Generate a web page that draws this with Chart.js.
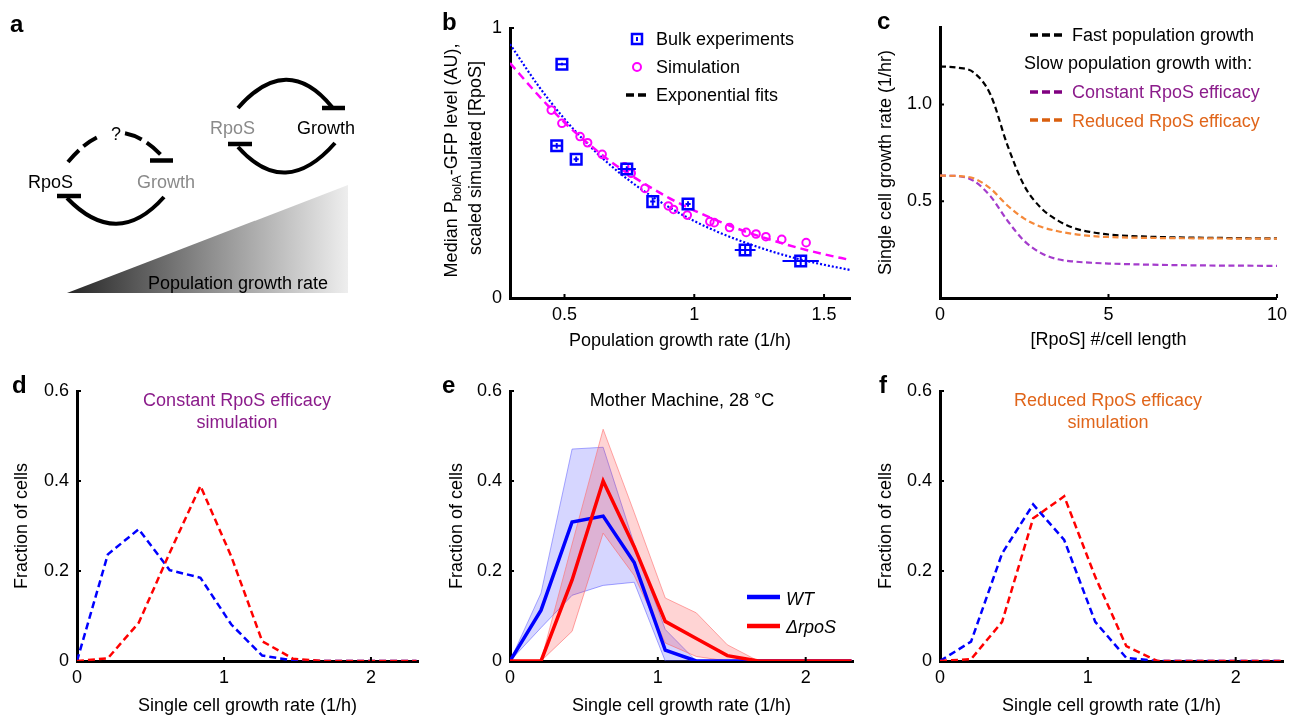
<!DOCTYPE html>
<html>
<head>
<meta charset="utf-8">
<script src="https://cdn.jsdelivr.net/npm/chart.js@4.4.0/dist/chart.umd.min.js"></script>
<style>
body { margin: 0; background: #fff; }
#fig { position: relative; width: 1293px; height: 718px; overflow: hidden; background: #fff; }
#fig canvas { position: absolute; }
#overlay { position: absolute; left: 0; top: 0; z-index: 2; }
#overlay text { font-family: "Liberation Sans", Arial, sans-serif; font-size: 18px; }
</style>
</head>
<body>
<div id="fig">
  <canvas id="chartB" width="440" height="360" style="left:420px;top:0"></canvas>
  <canvas id="chartC" width="433" height="360" style="left:860px;top:0"></canvas>
  <canvas id="chartD" width="430" height="358" style="left:0;top:360px"></canvas>
  <canvas id="chartE" width="440" height="358" style="left:430px;top:360px"></canvas>
  <canvas id="chartF" width="433" height="358" style="left:860px;top:360px"></canvas>

  <svg id="overlay" width="1293" height="718">
    <defs>
      <linearGradient id="grad" gradientUnits="userSpaceOnUse" x1="67" y1="0" x2="348" y2="0">
        <stop offset="0" stop-color="#262626"/>
        <stop offset="0.5" stop-color="#8c8c8c"/>
        <stop offset="1" stop-color="#eeeeee"/>
      </linearGradient>
    </defs>

    <!-- panel letters -->
    <g font-weight="bold">
      <text x="10" y="31.5" style="font-size:24px">a</text>
      <text x="442" y="30" style="font-size:24px">b</text>
      <text x="877" y="28.5" style="font-size:24px">c</text>
      <text x="12" y="393" style="font-size:24px">d</text>
      <text x="442" y="393" style="font-size:24px">e</text>
      <text x="879" y="393" style="font-size:24px">f</text>
    </g>

    <!-- panel a: schematic -->
    <polygon points="67,293 348,293 348,185" fill="url(#grad)"/>
    <text x="148" y="288.5">Population growth rate</text>
    <g fill="none" stroke="#000" stroke-width="4">
      <path d="M 68 162 Q 84.5 142 101 135.6" stroke-dasharray="16 6"/>
      <path d="M 125 133.2 Q 144.4 136.8 164 158" stroke-dasharray="18 6"/>
      <line x1="150" y1="160.5" x2="173" y2="160.5" stroke-width="4.5"/>
      <path d="M 164 197 Q 117 250 67 198"/>
      <line x1="57" y1="196" x2="81" y2="196" stroke-width="4.5"/>
      <path d="M 238 108 Q 287 52 332 107"/>
      <line x1="322" y1="108" x2="345" y2="108" stroke-width="4.5"/>
      <path d="M 335 143 Q 285 200 238 147"/>
      <line x1="228" y1="144" x2="252" y2="144" stroke-width="4.5"/>
    </g>
    <text x="116" y="140" text-anchor="middle" style="font-size:18px">?</text>
    <text x="28" y="188">RpoS</text>
    <text x="137" y="188" fill="#8a8a8a">Growth</text>
    <text x="210" y="133.5" fill="#8a8a8a">RpoS</text>
    <text x="297" y="133.5">Growth</text>

    <!-- panel b: y title and legend -->
    <text transform="translate(457,160.5) rotate(-90)" text-anchor="middle">Median P<tspan dy="4" style="font-size:13px">bolA</tspan><tspan dy="-4">-GFP level (AU),</tspan></text>
    <text transform="translate(480.5,158) rotate(-90)" text-anchor="middle">scaled simulated [RpoS]</text>
    <rect x="632" y="34" width="10" height="10" fill="none" stroke="#0000ff" stroke-width="2.5"/>
    <line x1="637" y1="37" x2="637" y2="41" stroke="#0000ff" stroke-width="2"/>
    <circle cx="637" cy="67" r="4" fill="none" stroke="#ff00ff" stroke-width="2"/>
    <line x1="626" y1="95" x2="649" y2="95" stroke="#000" stroke-width="3.5" stroke-dasharray="8 4"/>
    <text x="656" y="45">Bulk experiments</text>
    <text x="656" y="73.3">Simulation</text>
    <text x="656" y="101">Exponential fits</text>

    <!-- panel c legend -->
    <g stroke-width="3.5" stroke-dasharray="8 4">
      <line x1="1030" y1="35" x2="1062" y2="35" stroke="#000"/>
      <line x1="1030" y1="92" x2="1062" y2="92" stroke="#800080"/>
      <line x1="1030" y1="120" x2="1062" y2="120" stroke="#d95f0e"/>
    </g>
    <text x="1072" y="40.7">Fast population growth</text>
    <text x="1024" y="69.3">Slow population growth with:</text>
    <text x="1072" y="98.3" fill="#8b1c8b">Constant RpoS efficacy</text>
    <text x="1072" y="126.7" fill="#e0651a">Reduced RpoS efficacy</text>

    <!-- panel d/e/f titles -->
    <text x="237" y="405.7" text-anchor="middle" fill="#8b1c8b">Constant RpoS efficacy</text>
    <text x="237" y="428.3" text-anchor="middle" fill="#8b1c8b">simulation</text>
    <text x="682" y="406" text-anchor="middle">Mother Machine, 28 °C</text>
    <text x="1108" y="405.7" text-anchor="middle" fill="#e0651a">Reduced RpoS efficacy</text>
    <text x="1108" y="428.3" text-anchor="middle" fill="#e0651a">simulation</text>

    <!-- panel e legend -->
    <line x1="747" y1="597" x2="780" y2="597" stroke="#0000ff" stroke-width="4.5"/>
    <line x1="747" y1="626" x2="780" y2="626" stroke="#ff0000" stroke-width="4.5"/>
    <text x="786" y="605" font-style="italic">WT</text>
    <text x="786" y="632.7" font-style="italic">ΔrpoS</text>
  </svg>
</div>

<script>
// ---- panel b: bulk experiments vs simulation ----
const bulkGrowth = [0.49, 0.47, 0.545, 0.74, 0.84, 0.976, 1.196, 1.41];
const bulkGfp = [0.866, 0.564, 0.514, 0.478, 0.357, 0.348, 0.178, 0.137];
const bulkXErr = [0.02, 0.02, 0.01, 0.035, 0.01, 0.01, 0.04, 0.07];
const bulkYErr = [0.005, 0.01, 0.01, 0.01, 0.015, 0.01, 0.015, 0.015];

const simGrowth = [0.449, 0.49, 0.56, 0.589, 0.645, 0.732, 0.757, 0.81, 0.90, 0.92, 0.973, 1.06, 1.077, 1.136, 1.20, 1.238, 1.276, 1.337, 1.431];
const simRpoS = [0.696, 0.647, 0.598, 0.575, 0.532, 0.486, 0.462, 0.406, 0.341, 0.328, 0.307, 0.283, 0.279, 0.261, 0.243, 0.237, 0.227, 0.217, 0.205];

const fitX = [0.29, 0.4, 0.5, 0.6, 0.7, 0.8, 0.9, 1.0, 1.1, 1.2, 1.3, 1.4, 1.5, 1.6];
const fitSim = [0.87, 0.75, 0.65, 0.565, 0.49, 0.428, 0.372, 0.324, 0.282, 0.245, 0.214, 0.186, 0.162, 0.141];
const fitBulk = [0.94, 0.785, 0.663, 0.56, 0.473, 0.40, 0.338, 0.285, 0.241, 0.204, 0.172, 0.145, 0.123, 0.104];

// ---- panel c: growth rate vs [RpoS] ----
const rposX = [0, 0.5, 1, 1.5, 2, 2.5, 3, 3.5, 4, 4.5, 5, 6, 7, 8, 9, 10];
const fastGrowth = [1.197, 1.19, 1.165, 1.05, 0.79, 0.58, 0.465, 0.40, 0.36, 0.34, 0.328, 0.318, 0.313, 0.311, 0.309, 0.308];
const constEff = [0.632, 0.63, 0.605, 0.525, 0.40, 0.295, 0.232, 0.20, 0.188, 0.182, 0.178, 0.173, 0.17, 0.168, 0.167, 0.166];
const reducedEff = [0.632, 0.63, 0.618, 0.565, 0.478, 0.41, 0.368, 0.345, 0.33, 0.32, 0.315, 0.311, 0.309, 0.308, 0.307, 0.307];

// ---- panels d-f: single-cell growth rate histograms ----
const rateBins = [0, 0.21, 0.42, 0.63, 0.84, 1.05, 1.26, 1.47, 1.68, 1.89, 2.1, 2.31];
const dBlue = [0, 0.237, 0.293, 0.202, 0.185, 0.081, 0.012, 0.001, 0, 0, 0, 0];
const dRed = [0, 0.006, 0.085, 0.24, 0.389, 0.232, 0.044, 0.005, 0, 0, 0, 0];

const eWT = [0, 0.113, 0.309, 0.322, 0.219, 0.024, 0, 0, 0, 0, 0, 0];
const eWTHigh = [0, 0.151, 0.471, 0.475, 0.26, 0.07, 0, 0, 0, 0, 0, 0];
const eWTLow = [0, 0.074, 0.146, 0.168, 0.175, 0, 0, 0, 0, 0, 0, 0];
const eRpoS = [0, 0, 0.18, 0.40, 0.254, 0.088, 0.05, 0.012, 0, 0, 0, 0];
const eRpoSHigh = [0, 0, 0.26, 0.515, 0.33, 0.14, 0.107, 0.036, 0, 0, 0, 0];
const eRpoSLow = [0, 0, 0.066, 0.284, 0.19, 0.04, 0.01, 0, 0, 0, 0, 0];

const fBlue = [0, 0.043, 0.239, 0.348, 0.269, 0.087, 0.007, 0, 0, 0, 0, 0];
const fRed = [0, 0.004, 0.087, 0.317, 0.366, 0.187, 0.033, 0, 0, 0, 0, 0];

Chart.defaults.font.family = '"Liberation Sans", Arial, sans-serif';
Chart.defaults.font.size = 18;
Chart.defaults.color = '#000';

const pts = (xs, ys) => xs.map((x, i) => ({ x, y: ys[i] }));

function axis(min, max, tickVals, fmt, title, titlePad, fitSize, horizontal) {
    return {
        type: 'linear', min, max,
        grid: { display: false, drawTicks: false },
        border: { color: '#000', width: 3 },
        ticks: { padding: horizontal ? 6 : 8, autoSkip: false, maxRotation: 0, callback: v => fmt(v) },
        afterBuildTicks: s => { s.ticks = tickVals.map(v => ({ value: v })); },
        afterFit: s => { if (horizontal) s.height = fitSize; else s.width = fitSize; },
        title: { display: !!title, text: title, padding: { top: titlePad, bottom: titlePad } }
    };
}

// small inward tick marks
const inTicks = {
    id: 'inTicks',
    afterDraw(chart) {
        const { ctx, chartArea: a } = chart;
        const sx = chart.scales.x, sy = chart.scales.y;
        ctx.save();
        ctx.strokeStyle = '#000';
        ctx.lineWidth = 2;
        ctx.beginPath();
        sx.ticks.forEach(t => {
            const p = sx.getPixelForValue(t.value);
            if (p > a.left + 3) { ctx.moveTo(p, a.bottom); ctx.lineTo(p, a.bottom - 4); }
        });
        sy.ticks.forEach(t => {
            const p = sy.getPixelForValue(t.value);
            if (p < a.bottom - 3) { ctx.moveTo(a.left, p); ctx.lineTo(a.left + 4, p); }
        });
        ctx.stroke();
        ctx.restore();
    }
};

// error bars on bulk experiment squares
const errBars = {
    id: 'errBars',
    afterDatasetsDraw(chart) {
        const { ctx } = chart;
        const sx = chart.scales.x, sy = chart.scales.y;
        ctx.save();
        ctx.strokeStyle = '#0000ff';
        ctx.lineWidth = 2;
        ctx.beginPath();
        bulkGrowth.forEach((x, i) => {
            const y = bulkGfp[i];
            ctx.moveTo(sx.getPixelForValue(x - bulkXErr[i]), sy.getPixelForValue(y));
            ctx.lineTo(sx.getPixelForValue(x + bulkXErr[i]), sy.getPixelForValue(y));
            ctx.moveTo(sx.getPixelForValue(x), sy.getPixelForValue(y - bulkYErr[i]));
            ctx.lineTo(sx.getPixelForValue(x), sy.getPixelForValue(y + bulkYErr[i]));
        });
        ctx.stroke();
        ctx.restore();
    }
};

const baseOpts = (padding, scales) => ({
    responsive: false,
    animation: false,
    devicePixelRatio: 1,
    layout: { padding },
    plugins: { legend: { display: false }, tooltip: { enabled: false } },
    scales
});

const dashLine = (xs, ys, color, dash, width, order) => ({
    type: 'line', data: pts(xs, ys), borderColor: color, borderDash: dash, borderWidth: width,
    pointRadius: 0, fill: false, order, cubicInterpolationMode: 'monotone'
});

// panel b
new Chart(document.getElementById('chartB'), {
    type: 'scatter',
    data: {
        datasets: [
            { label: 'Bulk experiments', data: pts(bulkGrowth, bulkGfp), pointStyle: 'rect', pointRadius: 7.5,
              borderColor: '#0000ff', borderWidth: 2.5, backgroundColor: 'rgba(0,0,0,0)', order: 0 },
            { label: 'Simulation', data: pts(simGrowth, simRpoS), pointStyle: 'circle', pointRadius: 3.8,
              borderColor: '#ff00ff', borderWidth: 2, backgroundColor: 'rgba(0,0,0,0)', order: 1 },
            dashLine(fitX, fitSim, '#ff00ff', [8, 5], 2.5, 2),
            dashLine(fitX, fitBulk, '#0000ff', [2, 2], 2.2, 3)
        ]
    },
    options: baseOpts({ top: 28, right: 8 }, {
        x: axis(0.29, 1.6, [0.5, 1, 1.5], v => String(v), 'Population growth rate (1/h)', 8.5, 62, true),
        y: axis(0, 1, [0, 1], v => String(v), '', 0, 90, false)
    }),
    plugins: [inTicks, errBars]
});

// panel c
new Chart(document.getElementById('chartC'), {
    type: 'line',
    data: {
        datasets: [
            dashLine(rposX, reducedEff, '#f5893a', [6, 3.5], 2.2, 0),
            dashLine(rposX, constEff, '#a43ccc', [6, 3.5], 2.2, 1),
            dashLine(rposX, fastGrowth, '#000000', [6, 3.5], 2.2, 2)
        ]
    },
    options: baseOpts({ top: 27, right: 10 }, {
        x: axis(0, 10, [0, 5, 10], v => String(v), '[RpoS] #/cell length', 8.8, 62, true),
        y: axis(0, 1.4, [0.5, 1.0], v => v.toFixed(1), 'Single cell growth rate (1/hr)', 15, 80, false)
    }),
    plugins: [inTicks]
});

const histAxes = (yFit, yPad) => ({
    x: axis(0, 2.32, [0, 1, 2], v => String(v), 'Single cell growth rate (1/h)', 1, 57, true),
    y: axis(0, 0.6, [0, 0.2, 0.4, 0.6], v => String(v), 'Fraction of cells', yPad, yFit, false)
});

// panel d
new Chart(document.getElementById('chartD'), {
    type: 'line',
    data: {
        datasets: [
            { ...dashLine(rateBins, dRed, '#ff0000', [7, 4], 2.5, 0), cubicInterpolationMode: 'default' },
            { ...dashLine(rateBins, dBlue, '#0000ff', [7, 4], 2.5, 1), cubicInterpolationMode: 'default' }
        ]
    },
    options: baseOpts({ top: 31, right: 12 }, histAxes(77, 11.6)),
    plugins: [inTicks]
});

// panel e
const band = (ys, color, line, fill) => ({
    type: 'line', data: pts(rateBins, ys), borderColor: line, borderWidth: 1,
    backgroundColor: color, pointRadius: 0, fill, order: 5
});
new Chart(document.getElementById('chartE'), {
    type: 'line',
    data: {
        datasets: [
            band(eRpoSHigh, 'rgba(255,0,0,0.17)', 'rgba(255,110,110,0.6)', '+1'),
            band(eRpoSLow, 'rgba(255,0,0,0.17)', 'rgba(255,110,110,0.6)', false),
            band(eWTHigh, 'rgba(0,0,255,0.16)', 'rgba(110,110,255,0.6)', '+1'),
            band(eWTLow, 'rgba(0,0,255,0.16)', 'rgba(110,110,255,0.6)', false),
            { type: 'line', data: pts(rateBins, eRpoS), borderColor: '#ff0000', borderWidth: 3.5, pointRadius: 0, fill: false, order: 0 },
            { type: 'line', data: pts(rateBins, eWT), borderColor: '#0000ff', borderWidth: 3.5, pointRadius: 0, fill: false, order: 1 }
        ]
    },
    options: baseOpts({ top: 31, right: 17 }, histAxes(80, 16.2)),
    plugins: [inTicks]
});

// panel f
new Chart(document.getElementById('chartF'), {
    type: 'line',
    data: {
        datasets: [
            { ...dashLine(rateBins, fRed, '#ff0000', [7, 4], 2.5, 0), cubicInterpolationMode: 'default' },
            { ...dashLine(rateBins, fBlue, '#0000ff', [7, 4], 2.5, 1), cubicInterpolationMode: 'default' }
        ]
    },
    options: baseOpts({ top: 31, right: 10 }, histAxes(80, 15)),
    plugins: [inTicks]
});
</script>
</body>
</html>
